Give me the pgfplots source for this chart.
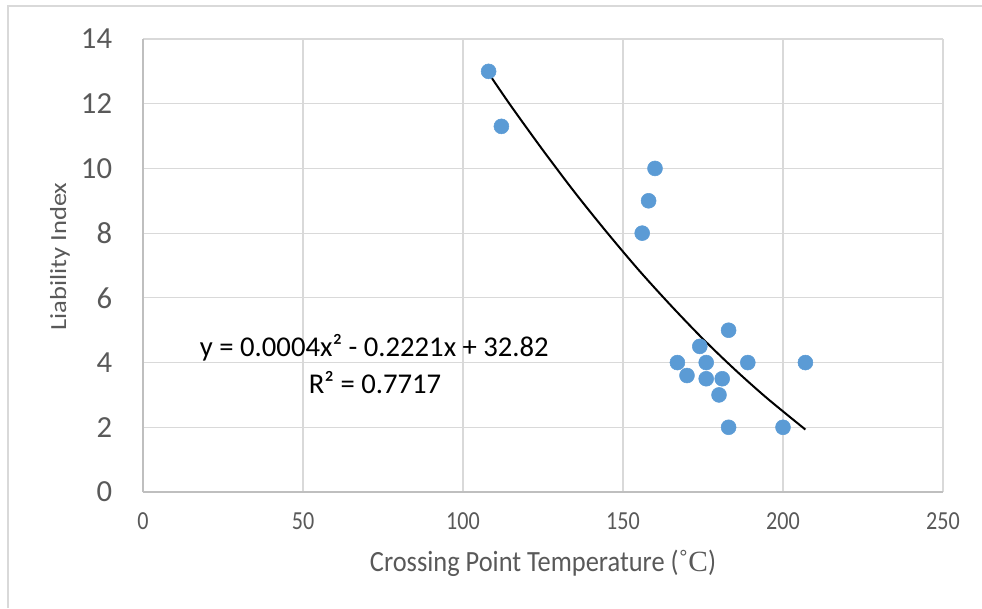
\documentclass[border=0pt]{standalone}
\usepackage{fontspec}
\setmainfont{Carlito}
\newfontfamily\condx[FakeStretch=0.85]{Carlito}
\newfontfamily\xlabfont[FakeStretch=0.9]{Carlito}
\newfontfamily\ylabfont[FakeStretch=1.15]{Carlito}
\newfontfamily\serifdeg{Liberation Serif}
\usepackage{pgfplots}
\pgfplotsset{compat=1.18}
\definecolor{dotblue}{HTML}{5B9BD5}
\definecolor{gridgray}{HTML}{D9D9D9}
\definecolor{axgray}{HTML}{BFBFBF}
\definecolor{txtgray}{HTML}{595959}
\begin{document}
\begin{tikzpicture}
\useasboundingbox (0pt,0pt) rectangle (736.5pt,456pt);
\draw[gridgray, line width=1.1pt] (6pt,0pt) -- (6pt,451.5pt) -- (736.5pt,451.5pt);
\begin{axis}[
  at={(107.25pt,87pt)}, anchor=south west,
  scale only axis, width=600pt, height=339.75pt,
  xmin=0, xmax=250, ymin=0, ymax=14,
  xtick={0,50,...,250}, ytick={0,2,...,14},
  axis x line*=bottom, axis y line*=left,
  axis line style={axgray, line width=1.2pt},
  grid=major, grid style={gridgray, line width=0.9pt},
  major tick length=0pt,
  /pgf/number format/assume math mode=true,
  xticklabel style={anchor=center, yshift=-21.75pt, inner sep=0pt, font=\condx\fontsize{19.5}{19.5}\selectfont, text=txtgray},
  yticklabel style={anchor=east, xshift=-23pt, inner sep=0pt, font=\fontsize{23}{23}\selectfont, text=txtgray},
  xlabel={Crossing Point Temperature ({\serifdeg ˚C})},
  xlabel style={at={(axis description cs:0.5,0)}, anchor=center, yshift=-53.25pt, font=\xlabfont\fontsize{22}{22}\selectfont, text=txtgray},
  ylabel={Liability Index},
  ylabel style={at={(axis description cs:0,0.5)}, anchor=center, xshift=6.75pt, yshift=62.25pt, font=\ylabfont\fontsize{17.3}{17.3}\selectfont, text=txtgray},
  clip=false,
]
\addplot[only marks, mark=*, mark size=5.6pt, mark options={fill=dotblue, draw=dotblue}] coordinates {
(108,13) (112,11.3) (160,10) (158,9) (156,8) (183,5) (174,4.5) (167,4) (176,4) (189,4) (207,4) (170,3.6) (176,3.5) (181,3.5) (180,3) (183,2) (200,2)
};
\addplot[black, line width=1.5pt, smooth, mark=none] coordinates {
(108,12.94) (115,11.93) (125,10.56) (135,9.25) (145,8.02) (155,6.85) (165,5.76) (175,4.73) (185,3.78) (195,2.90) (207,1.93)
};
\node[font=\fontsize{21.5}{21.5}\selectfont, text=black, inner sep=0pt] at (axis cs:72.3,4.45) {y = 0.0004x² - 0.2221x + 32.82};
\node[font=\fontsize{21.5}{21.5}\selectfont, text=black, inner sep=0pt] at (axis cs:72.5,3.37) {R² = 0.7717};
\end{axis}
\end{tikzpicture}
\end{document}
